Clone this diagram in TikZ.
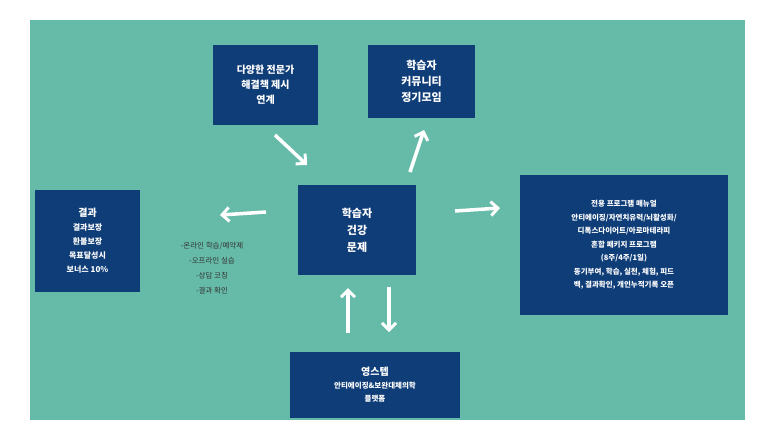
\documentclass[tikz,border=0pt]{standalone}
\usepackage{fontspec}
\setmainfont{Noto Sans CJK KR}
\usetikzlibrary{arrows.meta}
\definecolor{teal}{HTML}{66BBA8}
\definecolor{navy}{HTML}{0F3D78}
\tikzset{box/.style={fill=navy,text=white,font=\bfseries,align=center,inner sep=2pt},
wa/.style={white,line width=3.5pt,-{Straight Barb[length=7pt,width=14pt,line width=3pt]}}}
\begin{document}
\begin{tikzpicture}[x=1pt,y=-1pt]
\useasboundingbox (0,0) rectangle (773,440);
\fill[white] (0,0) rectangle (773,440);
\fill[teal] (30,20) rectangle (745,420);
\node[box,minimum width=105,minimum height=80,font=\bfseries\fontsize{10}{15}\selectfont] (exp) at (265.5,85) {다양한 전문가\\해결책 제시\\연계};
\node[box,minimum width=107,minimum height=73,font=\bfseries\fontsize{11}{16}\selectfont] (comm) at (421.5,81.5) {학습자\\커뮤니티\\정기모임};
\node[box,minimum width=118,minimum height=90,font=\bfseries\fontsize{11}{17}\selectfont] (ctr) at (357,230) {학습자\\건강\\문제};
\node[box,minimum width=105,minimum height=102,font=\bfseries\fontsize{8}{14}\selectfont] (res) at (87.5,241) {{\fontsize{10}{14}\selectfont 결과}\\결과보장\\환불보장\\목표달성시\\보너스 10\%};
\node[box,minimum width=208,minimum height=140,font=\bfseries\fontsize{7.5}{13.5}\selectfont] (prog) at (624,245) {전용 프로그램 매뉴얼\\안티에이징/자연치유력/뇌활성화/\\디톡스다이어트/아로마테라피\\혼합 패키지 프로그램\\(8주/4주/1일)\\동기부여, 학습, 실천, 체험, 피드\\백, 결과확인, 개인누적기록 오픈};
\node[box,minimum width=170,minimum height=66,font=\bfseries\fontsize{7.5}{13}\selectfont] (plat) at (375,385) {{\fontsize{10}{14}\selectfont 영스텝}\\안티에이징\&보완대체의학\\플랫폼};
\node[align=center,font=\fontsize{7.5}{15}\selectfont,text=black!80] (list) at (212,268) {-온라인 학습/예약제\\-오프라인 실습\\-상담 코칭\\-결과 확인};
\coordinate (a1) at (275,135); \coordinate (a2) at (307,165);
\coordinate (b1) at (410,172); \coordinate (b2) at (424,130);
\coordinate (c1) at (266,212); \coordinate (c2) at (220,215);
\coordinate (d1) at (455,211); \coordinate (d2) at (500,208);
\coordinate (e1) at (348,333); \coordinate (e2) at (348,288);
\coordinate (f1) at (389,287); \coordinate (f2) at (389,332);
\draw[wa] (a1)--(a2); \draw[wa] (b1)--(b2); \draw[wa] (c1)--(c2);
\draw[wa] (d1)--(d2); \draw[wa] (e1)--(e2); \draw[wa] (f1)--(f2);
\end{tikzpicture}
\end{document}
